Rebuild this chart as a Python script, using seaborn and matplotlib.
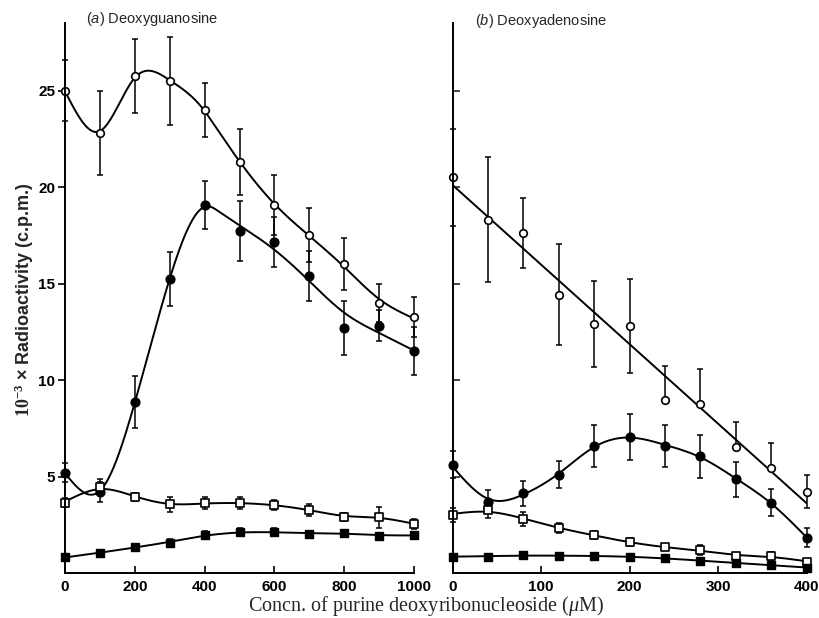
import numpy as np
import matplotlib
matplotlib.use("Agg")
import matplotlib.pyplot as plt
import seaborn as sns

# ---------------- data ----------------
# (a) Deoxyguanosine
x_a = [0, 100, 200, 300, 400, 500, 600, 700, 800, 900, 1000]
a_open_circ = [25.0, 22.8, 25.75, 25.5, 24.0, 21.3, 19.05, 17.5, 16.0, 14.0, 13.27]
a_open_circ_err = [1.6, 2.2, 1.9, 2.3, 1.4, 1.7, 1.55, 1.4, 1.35, 1.0, 1.05]
a_fill_circ = [5.2, 4.2, 8.84, 15.24, 19.05, 17.73, 17.14, 15.38, 12.7, 12.82, 11.52]
a_fill_circ_err = [0.5, 0.5, 1.35, 1.4, 1.25, 1.55, 1.3, 1.3, 1.4, 0.8, 1.25]
a_open_sq = [3.65, 4.45, 3.93, 3.55, 3.62, 3.62, 3.51, 3.27, 2.92, 2.89, 2.54]
a_open_sq_err = [0.25, 0.4, 0.2, 0.4, 0.3, 0.3, 0.25, 0.3, 0.2, 0.55, 0.25]
a_fill_sq = [0.81, 1.05, 1.33, 1.57, 1.97, 2.11, 2.11, 2.02, 2.09, 1.92, 1.96]
a_fill_sq_err = [0.15, 0.1, 0.15, 0.2, 0.2, 0.2, 0.2, 0.15, 0.1, 0.1, 0.1]

# (b) Deoxyadenosine
x_b = [0, 40, 80, 120, 160, 200, 240, 280, 320, 360, 400]
b_open_circ = [20.5, 18.28, 17.63, 14.43, 12.92, 12.82, 8.94, 8.77, 6.55, 5.43, 4.22]
b_open_circ_err_lo = [2.5, 3.2, 1.8, 2.6, 2.25, 2.45, 0.0, 0.0, 0.0, 0.0, 0.86]
b_open_circ_err_hi = [2.5, 3.3, 1.8, 2.6, 2.2, 2.4, 1.8, 1.8, 1.25, 1.3, 0.86]
b_fill_circ = [5.6, 3.7, 4.14, 5.09, 6.59, 7.04, 6.59, 6.04, 4.86, 3.65, 1.83]
b_fill_circ_err = [0.7, 0.6, 0.65, 0.7, 1.1, 1.2, 1.1, 1.1, 0.9, 0.7, 0.5]
b_open_sq = [3.01, 3.27, 2.79, 2.32, 1.97, 1.59, 1.33, 1.19, 0.88, 0.88, 0.59]
b_open_sq_err = [0.35, 0.4, 0.38, 0.25, 0.2, 0.2, 0.15, 0.25, 0.15, 0.2, 0.1]
b_fill_sq = [0.85, 0.85, 0.93, 0.88, 0.88, 0.85, 0.76, 0.64, 0.5, 0.42, 0.28]
b_fill_sq_err = [0.1, 0.1, 0.1, 0.1, 0.1, 0.1, 0.1, 0.1, 0.1, 0.1, 0.1]

x_ticks_a = [0, 200, 400, 600, 800, 1000]
x_ticks_b = [0, 100, 200, 300, 400]
y_ticks = [5, 10, 15, 20, 25]

title_a = r"($\mathcal{a}$) Deoxyguanosine"
title_b = r"($\mathcal{b}$) Deoxyadenosine"
ylabel = r"$\mathbf{10^{-3}}$ × Radioactivity (c.p.m.)"
xlabel = r"Concn. of purine deoxyribonucleoside ($\mu$M)"

# ---------------- style ----------------
sns.set_theme(style="ticks")
plt.rcParams["font.family"] = ["Liberation Sans", "DejaVu Sans"]
plt.rcParams["mathtext.fontset"] = "custom"
plt.rcParams["mathtext.rm"] = "Liberation Serif"
plt.rcParams["mathtext.it"] = "Liberation Serif:italic"
plt.rcParams["mathtext.bf"] = "Liberation Serif:bold"
plt.rcParams["mathtext.cal"] = "Liberation Sans:italic"


def smooth_curve(x, y, lam, lam_tail=None, split=None, n=401):
    """Penalised (smoothing-spline-like) curve through the data.
    Smoothing strength may differ before / after `split`."""
    x = np.asarray(x, float)
    y = np.asarray(y, float)
    g = np.linspace(x.min(), x.max(), n)
    h = 1.0 / (n - 1)
    idx = np.rint((x - x.min()) / (x.max() - x.min()) * (n - 1)).astype(int)
    w = np.zeros(n)
    w[idx] = 1.0
    yv = np.zeros(n)
    yv[idx] = y
    D = np.diff(np.eye(n), 2, axis=0)
    lam_vec = np.full(n - 2, lam)
    if lam_tail is not None:
        lam_vec[g[1:-1] > split] = lam_tail
    A = np.diag(w) + h ** -3 * (D.T @ (lam_vec[:, None] * D))
    f = np.linalg.solve(A, w * yv)
    return g, f


fig = plt.figure(figsize=(8.19, 6.18), dpi=100)
W, H = 819, 618
ax1 = fig.add_axes([65 / W, 45 / H, 349 / W, 550 / H])
ax2 = fig.add_axes([452.5 / W, 45 / H, 354 / W, 550 / H])

LW = 1.4


def draw_series(ax, x, y, err, style, lam=None, line=False, **smooth_kw):
    if isinstance(err, tuple):
        yerr = [err[0], err[1]]
    else:
        yerr = err
    ax.errorbar(x, y, yerr=yerr, fmt="none", ecolor="black", elinewidth=1.1,
                capsize=2.2, capthick=1.1, zorder=2, clip_on=False)
    if line:
        sns.regplot(x=np.asarray(x, float), y=np.asarray(y, float), ax=ax,
                    scatter=False, ci=None, color="black",
                    line_kws=dict(lw=LW, zorder=1))
    else:
        g, f = smooth_curve(x, y, lam, **smooth_kw)
        sns.lineplot(x=g, y=f, ax=ax, color="black", lw=LW, zorder=1,
                     estimator=None)
    if style == "open_circ":
        kw = dict(marker="o", s=30, facecolor="white", edgecolor="black", linewidth=1.2)
    elif style == "fill_circ":
        kw = dict(marker="o", s=40, facecolor="black", edgecolor="black", linewidth=1.0)
    elif style == "open_sq":
        kw = dict(marker="s", s=30, facecolor="white", edgecolor="black", linewidth=1.2)
    else:
        kw = dict(marker="s", s=36, facecolor="black", edgecolor="black", linewidth=1.0)
    sns.scatterplot(x=x, y=y, ax=ax, legend=False, zorder=3, clip_on=False, **kw)


# panel (a)
draw_series(ax1, x_a, a_open_circ, a_open_circ_err, "open_circ", lam=4e-6,
            lam_tail=8e-5, split=420)
draw_series(ax1, x_a, a_fill_circ, a_fill_circ_err, "fill_circ", lam=4e-6,
            lam_tail=4e-4, split=430)
draw_series(ax1, x_a, a_open_sq, a_open_sq_err, "open_sq", lam=3e-5)
draw_series(ax1, x_a, a_fill_sq, a_fill_sq_err, "fill_sq", lam=1.5e-4)

# panel (b)
draw_series(ax2, x_b, b_open_circ, (b_open_circ_err_lo, b_open_circ_err_hi),
            "open_circ", line=True)
draw_series(ax2, x_b, b_fill_circ, b_fill_circ_err, "fill_circ", lam=3e-5)
draw_series(ax2, x_b, b_open_sq, b_open_sq_err, "open_sq", lam=8e-5)
draw_series(ax2, x_b, b_fill_sq, b_fill_sq_err, "fill_sq", lam=3e-4)

for ax, xl, xt in [(ax1, (0, 1000), x_ticks_a), (ax2, (0, 400), x_ticks_b)]:
    ax.set_xlim(*xl)
    ax.set_ylim(0, 28.5)
    ax.set_xticks(xt)
    ax.set_xticklabels([str(v) for v in xt])
    ax.set_yticks(y_ticks)
    ax.set_xlabel("")
    ax.set_ylabel("")
    sns.despine(ax=ax)
    for s in ("left", "bottom"):
        ax.spines[s].set_linewidth(1.4)
        ax.spines[s].set_color("black")
        ax.spines[s].set_zorder(4)
    ax.tick_params(axis="x", direction="in", length=5, width=1.2, pad=5,
                   labelsize=11, colors="black")
    for lbl in ax.get_xticklabels():
        lbl.set_fontweight("bold")
    ax.set_facecolor("white")

ax1.set_yticklabels([str(v) for v in y_ticks])
ax1.tick_params(axis="y", direction="out", length=5, width=1.2, pad=2,
                labelsize=11, colors="black")
for lbl in ax1.get_yticklabels():
    lbl.set_fontweight("bold")
ax2.tick_params(axis="y", direction="in", length=5, width=1.2, labelleft=False)

fig.text(86 / W, 1 - 19 / H, title_a, ha="left", va="center", fontsize=10.5)
fig.text(475 / W, 1 - 21 / H, title_b, ha="left", va="center", fontsize=10.5)
fig.text(24 / W, 1 - 300 / H, ylabel, rotation=90, ha="center", va="center",
         fontsize=13, fontweight="bold")
fig.text(426 / W, 1 - 606 / H, xlabel, ha="center", va="center",
         fontsize=14.5, family=["Liberation Serif", "DejaVu Serif"])

fig.savefig("out.png", dpi=100, facecolor="white")
